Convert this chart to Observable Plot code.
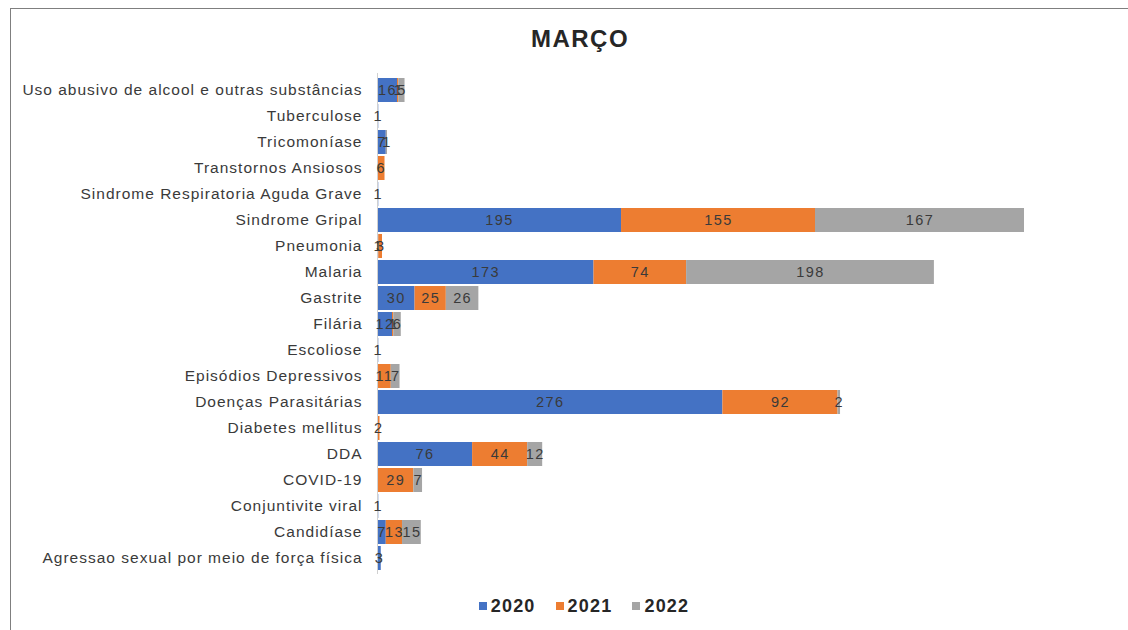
<!DOCTYPE html>
<html>
<head>
<meta charset="utf-8">
<script src="https://cdn.jsdelivr.net/npm/d3@7"></script>
<script src="https://cdn.jsdelivr.net/npm/@observablehq/plot@0.6"></script>
<style>
  body { margin: 0; background: #fff; font-family: "Liberation Sans", Arial, sans-serif; }
  #wrap { position: relative; width: 1128px; height: 630px; overflow: hidden; background: #fff; }
  #frame { position: absolute; left: 10px; top: 8px; width: 1130px; height: 640px; border-left: 1px solid #7f7f7f; border-top: 1px solid #7f7f7f; }
  #title { position: absolute; left: 0; width: 1160px; top: 25px; text-align: center; font-weight: bold; font-size: 24px; letter-spacing: 1.5px; color: #262626; }
  #legend { position: absolute; top: 596px; left: 0; width: 1168px; text-align: center; font-weight: bold; font-size: 18px; letter-spacing: 1.2px; color: #262626; }
  #legend span.item { margin: 0 10px; }
  #legend span.sw { display: inline-block; width: 8px; height: 8px; margin-right: 4px; vertical-align: 2px; }
  #chart { position: absolute; left: 0; top: 0; }
</style>
</head>
<body>
<div id="wrap">
  <div id="frame"></div>
  <div id="chart"></div>
  <div id="title">MARÇO</div>
  <div id="legend"></div>
</div>
<script>
const categories = [
  "Uso abusivo de alcool e outras substâncias",
  "Tuberculose",
  "Tricomoníase",
  "Transtornos Ansiosos",
  "Sindrome Respiratoria Aguda Grave",
  "Sindrome Gripal",
  "Pneumonia",
  "Malaria",
  "Gastrite",
  "Filária",
  "Escoliose",
  "Episódios Depressivos",
  "Doenças Parasitárias",
  "Diabetes mellitus",
  "DDA",
  "COVID-19",
  "Conjuntivite viral",
  "Candidíase",
  "Agressao sexual por meio de força física"
];
const years = ["2020", "2021", "2022"];
const colors = ["#4472C4", "#ED7D31", "#A5A5A5"];
const v2020 = [16, 1, 7, 0, 1, 195, 1, 173, 30, 12, 1, 0, 276, 0, 76, 0, 1, 7, 3];
const v2021 = [1, 0, 0, 6, 0, 155, 3, 74, 25, 1, 0, 11, 92, 2, 44, 29, 0, 13, 0];
const v2022 = [5, 0, 1, 0, 0, 167, 0, 198, 26, 6, 0, 7, 2, 0, 12, 7, 0, 15, 0];

const series = [v2020, v2021, v2022];
const data = [];
categories.forEach((c, i) => {
  years.forEach((y, j) => {
    const v = series[j][i];
    if (v > 0) data.push({cat: c, year: y, value: v});
  });
});

const chart = Plot.plot({
  width: 1128,
  height: 630,
  marginLeft: 377,
  marginRight: 104,
  marginTop: 73,
  marginBottom: 56,
  style: {fontFamily: "'Liberation Sans', Arial, sans-serif", background: "transparent"},
  x: {domain: [0, 517], axis: null},
  y: {domain: categories, padding: 0.09, label: null, axis: null},
  color: {domain: years, range: colors},
  marks: [
    Plot.barX(data, Plot.stackX({x: "value", y: "cat", z: "year", fill: "year", order: null})),
    Plot.ruleX([0], {stroke: "#d0d0d0"}),
    Plot.text(data, Plot.stackX({x: "value", y: "cat", z: "year", text: d => String(d.value), order: null, fill: "#3a3a3a", fontSize: 14.5, className: "vlabel"})),
    Plot.axisY({tickSize: 0, tickPadding: 15, fontSize: 15.5, fill: "#3a3a3a", label: null, className: "ylab"})
  ]
});
d3.select(chart).selectAll(".vlabel text").style("letter-spacing", "1.4px");
d3.select(chart).selectAll(".ylab text").style("letter-spacing", "1px");
document.getElementById("chart").appendChild(chart);

const legend = document.getElementById("legend");
years.forEach((y, j) => {
  const item = document.createElement("span");
  item.className = "item";
  const sw = document.createElement("span");
  sw.className = "sw";
  sw.style.background = colors[j];
  item.appendChild(sw);
  item.appendChild(document.createTextNode(y));
  legend.appendChild(item);
});
</script>
</body>
</html>
